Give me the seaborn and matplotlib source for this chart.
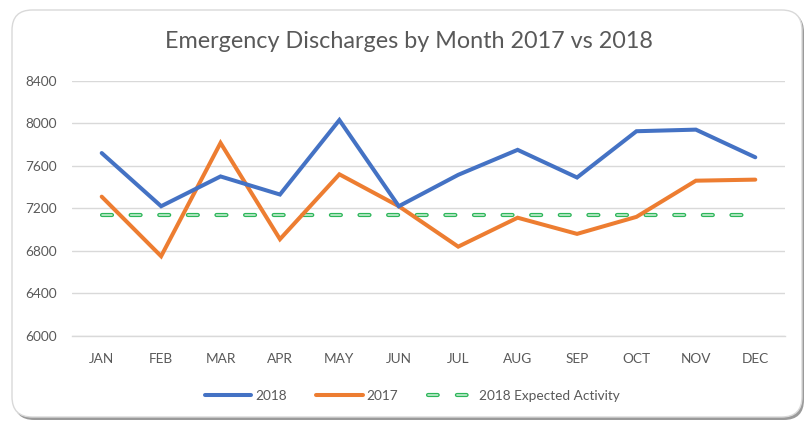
import matplotlib
matplotlib.use("Agg")
import matplotlib.pyplot as plt
import seaborn as sns
import pandas as pd
from matplotlib.patches import FancyBboxPatch
from matplotlib.lines import Line2D
from matplotlib.legend_handler import HandlerTuple

months = ["JAN", "FEB", "MAR", "APR", "MAY", "JUN", "JUL", "AUG", "SEP", "OCT", "NOV", "DEC"]
vals_2018 = [7720, 7220, 7500, 7330, 8030, 7220, 7515, 7750, 7490, 7925, 7940, 7680]
vals_2017 = [7310, 6750, 7815, 6910, 7520, 7220, 6840, 7112, 6960, 7120, 7460, 7470]
expected_2018 = [7140] * 12
yticks = [6000, 6400, 6800, 7200, 7600, 8000, 8400]

sns.set_theme(style="white")
plt.rcParams['font.family'] = ['Lato', 'DejaVu Sans']
plt.rcParams['lines.scale_dashes'] = False

TXT = "#595959"
BLUE = "#4472C4"
ORANGE = "#ED7D31"
GREEN = "#2DB65A"
GREEN_IN = "#D4F1DC"

fig = plt.figure(figsize=(8.1, 4.25), dpi=100)
fig.patch.set_facecolor("white")

# chart frame with shadow
shadow = FancyBboxPatch((14 / 810, 1 - 420 / 425), 790 / 810, 408 / 425,
                        boxstyle="round,pad=0,rounding_size=0.025",
                        transform=fig.transFigure, facecolor="#9a9a9a",
                        edgecolor="none", zorder=-2, mutation_aspect=810 / 425)
frame = FancyBboxPatch((12 / 810, 1 - 417 / 425), 790 / 810, 407 / 425,
                       boxstyle="round,pad=0,rounding_size=0.025",
                       transform=fig.transFigure, facecolor="white",
                       edgecolor="#d9d9d9", linewidth=1, zorder=-1,
                       mutation_aspect=810 / 425)
fig.patches.extend([shadow, frame])

ax = fig.add_axes([72 / 810, 1 - 336 / 425, (785 - 72) / 810, (336 - 80.7) / 425])
ax.set_facecolor("none")
ax.set_zorder(2)

df = pd.DataFrame({"month": months, "2018": vals_2018, "2017": vals_2017,
                   "exp": expected_2018})
df["x"] = range(len(months))

DASH = [7.2, 13.4]
sns.lineplot(data=df, x="x", y="2018", ax=ax, color=BLUE, linewidth=2.9,
             solid_capstyle="round", solid_joinstyle="miter", zorder=4)
sns.lineplot(data=df, x="x", y="2017", ax=ax, color=ORANGE, linewidth=2.9,
             solid_capstyle="round", solid_joinstyle="miter", zorder=3)
l1 = sns.lineplot(data=df, x="x", y="exp", ax=ax, color=GREEN, linewidth=3.0,
                  zorder=2).lines[-1]
l1.set_dashes(DASH)
l1.set_dash_capstyle("round")
l2 = sns.lineplot(data=df, x="x", y="exp", ax=ax, color=GREEN_IN, linewidth=1.1,
                  zorder=2.1).lines[-1]
l2.set_dashes(DASH)
l2.set_dash_capstyle("round")

ax.set_xlim(-0.5, 11.5)
ax.set_ylim(6000, 8400)
ax.set_xticks(range(len(months)))
ax.set_xticklabels(months)
ax.set_yticks(yticks)
ax.set_yticklabels([str(v) for v in yticks])
ax.yaxis.grid(True, color="#d9d9d9", linewidth=1)
ax.xaxis.grid(False)
for s in ["top", "right", "left"]:
    ax.spines[s].set_visible(False)
ax.spines["bottom"].set_color("#d9d9d9")
ax.spines["bottom"].set_linewidth(1)
ax.tick_params(axis="both", length=0, colors=TXT, labelsize=9.8)
ax.tick_params(axis="x", pad=12)
ax.tick_params(axis="y", pad=11)
ax.set_xlabel("")
ax.set_ylabel("")

fig.text(409 / 810, 1 - 42 / 425, "Emergency Discharges by Month 2017 vs 2018",
         ha="center", va="center", fontsize=16.8, color=TXT)

# legend
h1 = Line2D([], [], color=BLUE, linewidth=2.9, solid_capstyle="round")
h2 = Line2D([], [], color=ORANGE, linewidth=2.9, solid_capstyle="round")
h3a = Line2D([], [], color=GREEN, linewidth=3.0, dashes=[7, 13.8], dash_capstyle="round")
h3b = Line2D([], [], color=GREEN_IN, linewidth=1.1, dashes=[7, 13.8], dash_capstyle="round")
leg = fig.legend([h1, h2, (h3a, h3b)], ["2018", "2017", "2018 Expected Activity"],
                 handler_map={tuple: HandlerTuple(ndivide=1, pad=0)},
                 loc="center", bbox_to_anchor=(412 / 810, 1 - 396 / 425), ncol=3,
                 frameon=False, fontsize=9.8, labelcolor=TXT, handlelength=3.4,
                 columnspacing=2.2, handletextpad=0.3)

fig.savefig("out.png", dpi=100, facecolor="white")
